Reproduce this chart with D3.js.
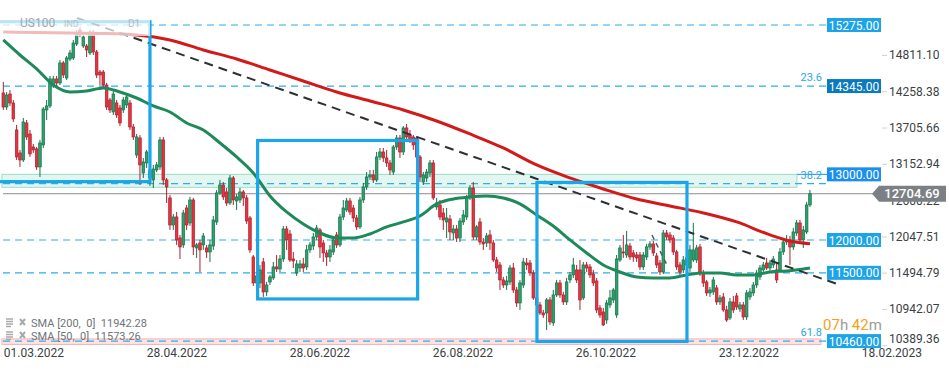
<!DOCTYPE html>
<html>
<head>
<meta charset="utf-8">
<script src="https://cdn.jsdelivr.net/npm/d3@7"></script>
<style>
  body { margin: 0; background: #fff; }
  svg { display: block; font-family: Roboto, 'Open Sans', sans-serif; }
</style>
</head>
<body>
<svg id="chart" width="949" height="370"></svg>
<script>
// daily candles, [open, high, low, close]
const ohlc = [
  [14240,14407,13981,14026],[14026,14255,13981,14209],[14224,14285,14042,14087],[14087,14133,13798,13844],[13676,13752,13219,13265],
  [13326,13372,13113,13219],[13219,13859,13189,13798],[13783,13828,13524,13570],[13615,13676,13265,13311],[13417,13463,13326,13372],
  [13387,13417,13067,13113],[13113,13524,12960,13478],[13448,14026,13402,13996],[13981,14133,13828,14042],[14042,14499,14011,14453],
  [14361,14499,14316,14453],[14453,14499,14346,14392],[14392,14742,14361,14697],[14697,14727,14468,14514],[14468,14803,14438,14773],
  [14757,14895,14727,14849],[14773,15047,14742,15001],[14986,15199,14955,15153],[15199,15245,15093,15123],[14955,15123,14925,15093],
  [14955,14986,14788,14895],[14849,15199,14818,15169],[15169,15199,14818,14864],[14864,14895,14468,14514],[14559,14590,14361,14514],
  [14559,14590,14316,14361],[14361,14392,13981,14026],[14133,14164,13935,13981],[13950,14285,13905,14224],[14087,14133,13859,13905],
  [14011,14057,13737,13783],[13981,14179,13935,14133],[14057,14224,14011,14179],[14087,14133,13676,13722],[13722,13768,13524,13570],
  [13295,13615,13250,13570],[13554,13600,12838,13143],[13021,13250,12945,13189],[13174,13372,13097,13341],[12945,13143,12823,13067],
  [12915,13143,12793,13082],[13067,13189,13036,13143],[13113,13570,13067,13524],[13524,13570,12838,12915],[12915,12945,12564,12808],
  [12641,12686,12153,12229],[12229,12397,12153,12351],[12351,12427,11925,12001],[12031,12077,11711,11894],[11925,12458,11879,12412],
  [12488,12534,12153,12229],[12260,12656,12214,12610],[12610,12641,11772,11894],[11879,11955,11727,11925],[11955,12001,11513,11849],
  [11925,12107,11849,12062],[11879,11925,11727,11818],[11818,12001,11666,11925],[11909,12366,11849,12305],[12275,12762,12229,12717],
  [12717,12915,12686,12838],[12838,12884,12610,12656],[12732,12793,12519,12564],[12564,12991,12534,12945],[12945,12976,12534,12610],
  [12595,12701,12458,12656],[12610,12793,12564,12732],[12732,12762,12519,12641],[12641,12686,12245,12290],[12336,12366,11803,11849],
  [11742,11772,11300,11346],[11346,11513,11239,11453],[11346,11620,11270,11544],[11666,11727,11133,11209],[11209,11361,11148,11315],
  [11361,11468,11315,11437],[11422,11666,11392,11590],[11590,11772,11513,11559],[11559,11772,11513,11711],[11711,12214,11666,12168],
  [12168,12214,11849,12001],[12092,12153,11666,11696],[11711,11818,11574,11681],[11498,11696,11453,11635],[11574,11696,11513,11635],
  [11635,11727,11513,11574],[11590,11925,11544,11849],[11849,11970,11803,11925],[11909,12107,11849,12046],[12046,12229,12001,12183],
  [12153,12183,11727,11894],[11955,12001,11666,11803],[11803,11849,11605,11742],[11742,11925,11666,11849],[11818,12046,11772,12001],
  [12077,12123,11879,11925],[11925,12397,11894,12351],[12351,12610,12305,12488],[12458,12641,12427,12595],[12595,12641,12382,12427],
  [12488,12534,12275,12336],[12336,12382,12153,12199],[12199,12656,12168,12610],[12610,12869,12564,12808],[12808,13036,12762,12960],
  [12960,13067,12915,12991],[12991,13067,12869,12915],[12915,13341,12884,13265],[13265,13402,13219,13341],[13341,13402,13189,13250],
  [13250,13372,13113,13174],[13174,13219,12991,13067],[13036,13448,12991,13417],[13417,13600,13372,13554],[13554,13600,13250,13341],
  [13341,13737,13295,13707],[13707,13768,13524,13570],[13600,13676,13478,13524],[13570,13600,13372,13448],[13554,13585,13189,13265],
  [13265,13295,12884,12960],[12884,13036,12838,12991],[12945,13082,12884,13036],[13021,13219,12960,13174],[13174,13219,12610,12641],
  [12503,12641,12458,12564],[12534,12610,12305,12351],[12412,12488,12153,12305],[12275,12488,12031,12336],[12320,12382,12001,12123],
  [12107,12229,12001,12168],[12168,12229,11970,12031],[12031,12336,11970,12290],[12275,12458,12229,12382],[12351,12686,12305,12641],
  [12641,12838,12610,12793],[12793,12884,12001,12046],[12046,12229,12001,12199],[12275,12336,11925,11970],[11970,12031,11849,11940],
  [11955,12107,11894,12062],[12077,12153,11849,11955],[11955,12001,11666,11696],[11696,11742,11513,11574],[11620,11666,11239,11392],
  [11392,11437,11270,11315],[11315,11453,11239,11376],[11361,11620,11315,11574],[11574,11650,11194,11239],[11239,11285,10980,11041],
  [11041,11392,10935,11346],[11315,11727,11270,11666],[11650,11727,11544,11620],[11650,11696,11453,11498],[11498,11544,11087,11117],
  [11117,11163,10965,11011],[11011,11057,10859,10889],[10889,10935,10813,10858],[10889,11117,10630,11087],[11087,11133,10706,10752],
  [10737,11239,10691,11163],[11163,11392,11133,11346],[11346,11392,11118,11163],[11163,11209,11011,11057],[11057,11422,11011,11361],
  [11392,11513,11346,11468],[11468,11727,11422,11620],[11544,11620,11346,11392],[11544,11696,10935,11087],[11118,11666,11087,11620],
  [11620,11666,11513,11574],[11590,11635,11422,11468],[11483,11544,11300,11346],[11376,11422,10889,10935],[10965,11011,10813,10858],
  [10904,10965,10691,10706],[10782,11087,10722,11041],[11011,11239,10965,11118],[11087,11270,11041,11239],[10858,11772,10813,11711],
  [11696,11925,11666,11879],[11818,12077,11727,11803],[11772,12138,11727,11925],[11909,11955,11696,11742],[11803,11849,11666,11742],
  [11772,11818,11666,11727],[11772,11818,11544,11590],[11590,11818,11544,11772],[11742,11940,11696,11894],[11894,11985,11849,11940],
  [11940,11985,11757,11803],[11757,11803,11574,11620],[11650,11696,11468,11513],[11513,12153,11483,12107],[12107,12153,12001,12046],
  [12077,12123,11955,12001],[12031,12077,11772,11818],[11818,11849,11544,11590],[11620,11666,11468,11513],[11544,11757,11498,11696],
  [11620,11788,11574,11727],[11574,11925,11513,11849],[11696,12260,11666,11849],[11696,11925,11650,11879],[11894,11940,11453,11498],
  [11498,11544,11285,11346],[11361,11392,11148,11194],[11194,11285,11133,11239],[11209,11437,11163,11392],[11270,11315,11011,11057],
  [11057,11163,11011,11118],[11133,11194,10904,10935],[10935,10996,10752,10782],[10813,11118,10782,11057],[11057,11148,10889,10935],
  [11148,11194,10935,10980],[10950,11057,10904,11011],[11011,11057,10782,10828],[10828,11239,10782,11194],[11133,11270,11087,11209],
  [11194,11361,11148,11315],[11315,11544,11270,11498],[11437,11620,11392,11574],[11544,11666,11513,11620],[11650,11727,11544,11574],
  [11574,11696,11513,11650],[11620,11757,11574,11711],[11544,11666,11346,11392],[11544,11879,11513,11818],[11818,12031,11772,11970],
  [11970,12077,11925,12001],[12001,12062,11620,11894],[11894,12183,11849,12123],[12107,12305,12062,12260],[12260,12305,11955,12001],
  [12001,12214,11879,12153],[12123,12580,12092,12534],[12534,12762,12503,12705]
]

// moving averages read at candle indexes
const sma200Idx = [0, 10, 20, 30, 40, 50, 60, 70, 80, 90, 100, 110, 120, 130, 140, 150, 160, 170, 180, 190, 200, 210, 220, 230, 236, 242]
const sma200 = [15169, 15161, 15153, 15146, 15123, 15047, 14895, 14757, 14590, 14422, 14255, 14118, 13981, 13813, 13615, 13402, 13143, 12945, 12777, 12625, 12519, 12412, 12275, 12077, 11985, 11942]
const sma50Idx = [0, 5, 10, 15, 20, 25, 30, 35, 40, 45, 50, 55, 60, 65, 70, 75, 80, 85, 90, 95, 100, 105, 110, 115, 120, 125, 130, 135, 140, 145, 150, 155, 160, 165, 170, 175, 180, 185, 190, 195, 200, 205, 210, 215, 220, 225, 230, 235, 240, 242]
const sma50 = [15047, 14818, 14605, 14361, 14255, 14270, 14316, 14255, 14163, 14042, 13950, 13783, 13676, 13478, 13265, 13021, 12671, 12427, 12244, 12107, 12031, 12031, 12092, 12199, 12275, 12366, 12549, 12625, 12656, 12671, 12641, 12549, 12382, 12214, 12001, 11803, 11620, 11513, 11437, 11422, 11422, 11468, 11498, 11498, 11468, 11468, 11513, 11529, 11559, 11573]

const dateLabels = ['01.03.2022', '28.04.2022', '28.06.2022', '26.08.2022', '26.10.2022', '23.12.2022', '18.02.2023']
const dateIdx = [9.2, 52.1, 95, 137.9, 180.8, 223.7, 266.6]
const priceTicks = [14811.10, 14258.38, 13705.66, 13152.94, 12600.22, 12047.51, 11494.79, 10942.07, 10389.36]

const levels = [15275, 14345, 12860, 12000, 11500, 10460]
const levelTags = [15275, 14345, 13000, 12000, 11500, 10460]
const fibNames = ['23.6', '38.2', '61.8']
const fibPrices = [14345, 12860, 10460]
const lastPrice = 12704.69

// annotation boxes: [idxFrom, idxTo, priceTop, priceBottom]
const boxes = [[-2, 44, 15325, 12889], [76.3, 124.3, 13516, 11102], [160.1, 205.1, 12877, 10455]]
const trend = [[22.1, 15382], [251, 11315]]
const trend2 = [[194.6, 12076], [199.4, 11590]]

const svg = d3.select('#chart')

const blue = '#1ca6ea',
  green = '#1e8a5a',
  red = '#d21a1a'

const x = d3.scaleLinear().domain([0, 270]).range([3.3, 903.3])
const y = d3.scaleLinear().domain([12000, 15275]).range([240, 25])

// zones
svg.append('rect')
  .attr('x', x(-0.4)).attr('width', x(238.1) - x(-0.4))
  .attr('y', y(13000)).attr('height', y(12803) - y(13000))
  .attr('fill', '#e4f6f0').attr('stroke', '#98dcc6').attr('stroke-width', 1)

svg.append('rect')
  .attr('x', x(-0.4)).attr('width', x(245.3) - x(-0.4))
  .attr('y', y(10493)).attr('height', y(10409) - y(10493))
  .attr('fill', '#fde3e3').attr('stroke', '#f5b3b3').attr('stroke-width', 1)

// level lines
svg.selectAll('line.level')
  .data(levels)
  .enter()
  .append('line')
  .attr('class', 'level')
  .attr('x1', 3).attr('x2', 827)
  .attr('y1', (d) => y(d)).attr('y2', (d) => y(d))
  .attr('stroke', '#2eaee8')
  .attr('stroke-width', 1.2)
  .attr('stroke-dasharray', '7,5')

svg.append('line')
  .attr('x1', x(238.1)).attr('x2', 827)
  .attr('y1', y(13000)).attr('y2', y(13000))
  .attr('stroke', '#1a8ff0').attr('stroke-width', 1)

// last price line
svg.append('line')
  .attr('x1', 3).attr('x2', 876)
  .attr('y1', y(lastPrice)).attr('y2', y(lastPrice))
  .attr('stroke', '#8a8d90').attr('stroke-width', 1)

// candles
const candles = svg.append('g')
  .selectAll('g')
  .data(ohlc)
  .enter()
  .append('g')

candles.append('line')
  .attr('x1', (d, i) => x(i)).attr('x2', (d, i) => x(i))
  .attr('y1', (d) => y(d[1])).attr('y2', (d) => y(d[2]))
  .attr('stroke', (d) => (d[3] >= d[0] ? '#17704a' : '#a8212c'))
  .attr('stroke-width', 1)

candles.append('rect')
  .attr('x', (d, i) => x(i) - 1.3)
  .attr('width', 2.6)
  .attr('y', (d) => y(Math.max(d[0], d[3])))
  .attr('height', (d) => Math.max(1, Math.abs(y(d[0]) - y(d[3]))))
  .attr('fill', (d) => (d[3] >= d[0] ? '#2aa36c' : '#e8343f'))
  .attr('stroke', (d) => (d[3] >= d[0] ? '#17704a' : '#a8212c'))
  .attr('stroke-width', 0.7)

// moving averages
const line200 = d3.line()
  .x((d, i) => x(sma200Idx[i]))
  .y((d) => y(d))
  .curve(d3.curveMonotoneX)

const line50 = d3.line()
  .x((d, i) => x(sma50Idx[i]))
  .y((d) => y(d))
  .curve(d3.curveMonotoneX)

svg.append('path')
  .attr('d', line200(sma200))
  .attr('fill', 'none')
  .attr('stroke', red)
  .attr('stroke-width', 3)

svg.append('path')
  .attr('d', line50(sma50))
  .attr('fill', 'none')
  .attr('stroke', green)
  .attr('stroke-width', 3)

// trend lines
const tline = d3.line().x((d) => x(d[0])).y((d) => y(d[1]))

svg.append('path')
  .attr('d', tline(trend))
  .attr('stroke', '#2b3035').attr('stroke-width', 2)
  .attr('stroke-dasharray', '9,6').attr('fill', 'none')

svg.append('path')
  .attr('d', tline(trend2))
  .attr('stroke', '#555a60').attr('stroke-width', 1.5)
  .attr('stroke-dasharray', '5,4').attr('fill', 'none')

// blue boxes
svg.selectAll('rect.box')
  .data(boxes)
  .enter()
  .append('rect')
  .attr('class', 'box')
  .attr('x', (d) => x(d[0]))
  .attr('width', (d) => x(d[1]) - x(d[0]))
  .attr('y', (d) => y(d[2]))
  .attr('height', (d) => y(d[3]) - y(d[2]))
  .attr('fill', 'none')
  .attr('stroke', blue)
  .attr('stroke-width', 3.2)

// faded header
svg.append('rect')
  .attr('x', 0).attr('y', 14).attr('width', 150).attr('height', 22)
  .attr('fill', '#fff').attr('opacity', 0.7)

const head = svg.append('g').attr('fill', '#9fa6ab').attr('font-size', 11)
head.append('text').attr('x', 20).attr('y', 27).attr('font-size', 12).text('US100')
head.append('text').attr('x', 64).attr('y', 27).attr('font-size', 9).attr('opacity', 0.6).text('IND')
head.append('text').attr('x', 128).attr('y', 27).attr('font-size', 10).attr('opacity', 0.7).text('D1')

// fib labels
svg.selectAll('text.fib')
  .data(fibNames)
  .enter()
  .append('text')
  .attr('class', 'fib')
  .attr('x', 822)
  .attr('y', (d, i) => y(fibPrices[i]) - 5)
  .attr('text-anchor', 'end')
  .attr('font-size', 11)
  .attr('fill', '#2aa8e4')
  .text((d) => d)

// right price axis
svg.selectAll('line.tick')
  .data(priceTicks)
  .enter()
  .append('line')
  .attr('class', 'tick')
  .attr('x1', 882).attr('x2', 887)
  .attr('y1', (d) => y(d)).attr('y2', (d) => y(d))
  .attr('stroke', '#cfd3d6')

svg.selectAll('text.tick')
  .data(priceTicks)
  .enter()
  .append('text')
  .attr('class', 'tick')
  .attr('x', 889)
  .attr('y', (d) => Math.min(y(d), 339) + 4)
  .attr('font-size', 12)
  .attr('fill', '#3b3f43')
  .text((d) => d.toFixed(2))

// level tags
const tagColor = { 14345: '#0b79bd', 13000: '#1a8ff0' }
const tags = svg.selectAll('g.tag')
  .data(levelTags)
  .enter()
  .append('g')
  .attr('class', 'tag')
  .attr('transform', (d) => `translate(827, ${y(d)})`)

tags.append('rect')
  .attr('x', 0).attr('y', -7).attr('width', 54).attr('height', 14)
  .attr('fill', (d) => tagColor[d] || '#1ca3e8')

tags.append('text')
  .attr('x', 27).attr('y', 4.5)
  .attr('text-anchor', 'middle')
  .attr('font-size', 12)
  .attr('fill', '#fff')
  .text((d) => d.toFixed(2))

// last price tag
const lp = svg.append('g').attr('transform', `translate(0, ${y(lastPrice)})`)
lp.append('path')
  .attr('d', 'M872,0 L879,-8 L946,-8 L946,8 L879,8 Z')
  .attr('fill', '#7c8084')
lp.append('text')
  .attr('x', 912).attr('y', 4.5)
  .attr('text-anchor', 'middle')
  .attr('font-size', 13)
  .attr('font-weight', 500)
  .attr('fill', '#fff')
  .text(lastPrice.toFixed(2))

// countdown
const cd = svg.append('text').attr('x', 823).attr('y', 330).attr('font-size', 15)
cd.append('tspan').attr('fill', '#f5a21b').text('07')
cd.append('tspan').attr('fill', '#9b9b9b').text('h ')
cd.append('tspan').attr('fill', '#f5a21b').text('42')
cd.append('tspan').attr('fill', '#9b9b9b').text('m')

// legend
const legendRows = ['SMA [200,  0]  11942.28', 'SMA [50,  0]  11573.26']
const leg = svg.selectAll('g.leg')
  .data(legendRows)
  .enter()
  .append('g')
  .attr('class', 'leg')
  .attr('transform', (d, i) => `translate(0, ${327 + i * 13})`)

leg.append('path')
  .attr('d', 'M6,-8 h7 M6,-5.5 h7 M6,-3 h7 M6,-0.5 h5')
  .attr('stroke', '#aaa').attr('stroke-width', 1.5)
leg.append('path')
  .attr('d', 'M20,-8 l5,6 M25,-8 l-5,6')
  .attr('stroke', '#aaa').attr('stroke-width', 2)
leg.append('text')
  .attr('x', 31).attr('y', 0)
  .attr('font-size', 11)
  .attr('fill', '#707478')
  .style('white-space', 'pre')
  .text((d) => d)

// date axis
svg.selectAll('text.date')
  .data(dateLabels)
  .enter()
  .append('text')
  .attr('class', 'date')
  .attr('x', (d, i) => x(dateIdx[i]))
  .attr('y', 357)
  .attr('text-anchor', 'middle')
  .attr('font-size', 12)
  .attr('fill', '#3b3f43')
  .text((d) => d)
</script>
</body>
</html>
